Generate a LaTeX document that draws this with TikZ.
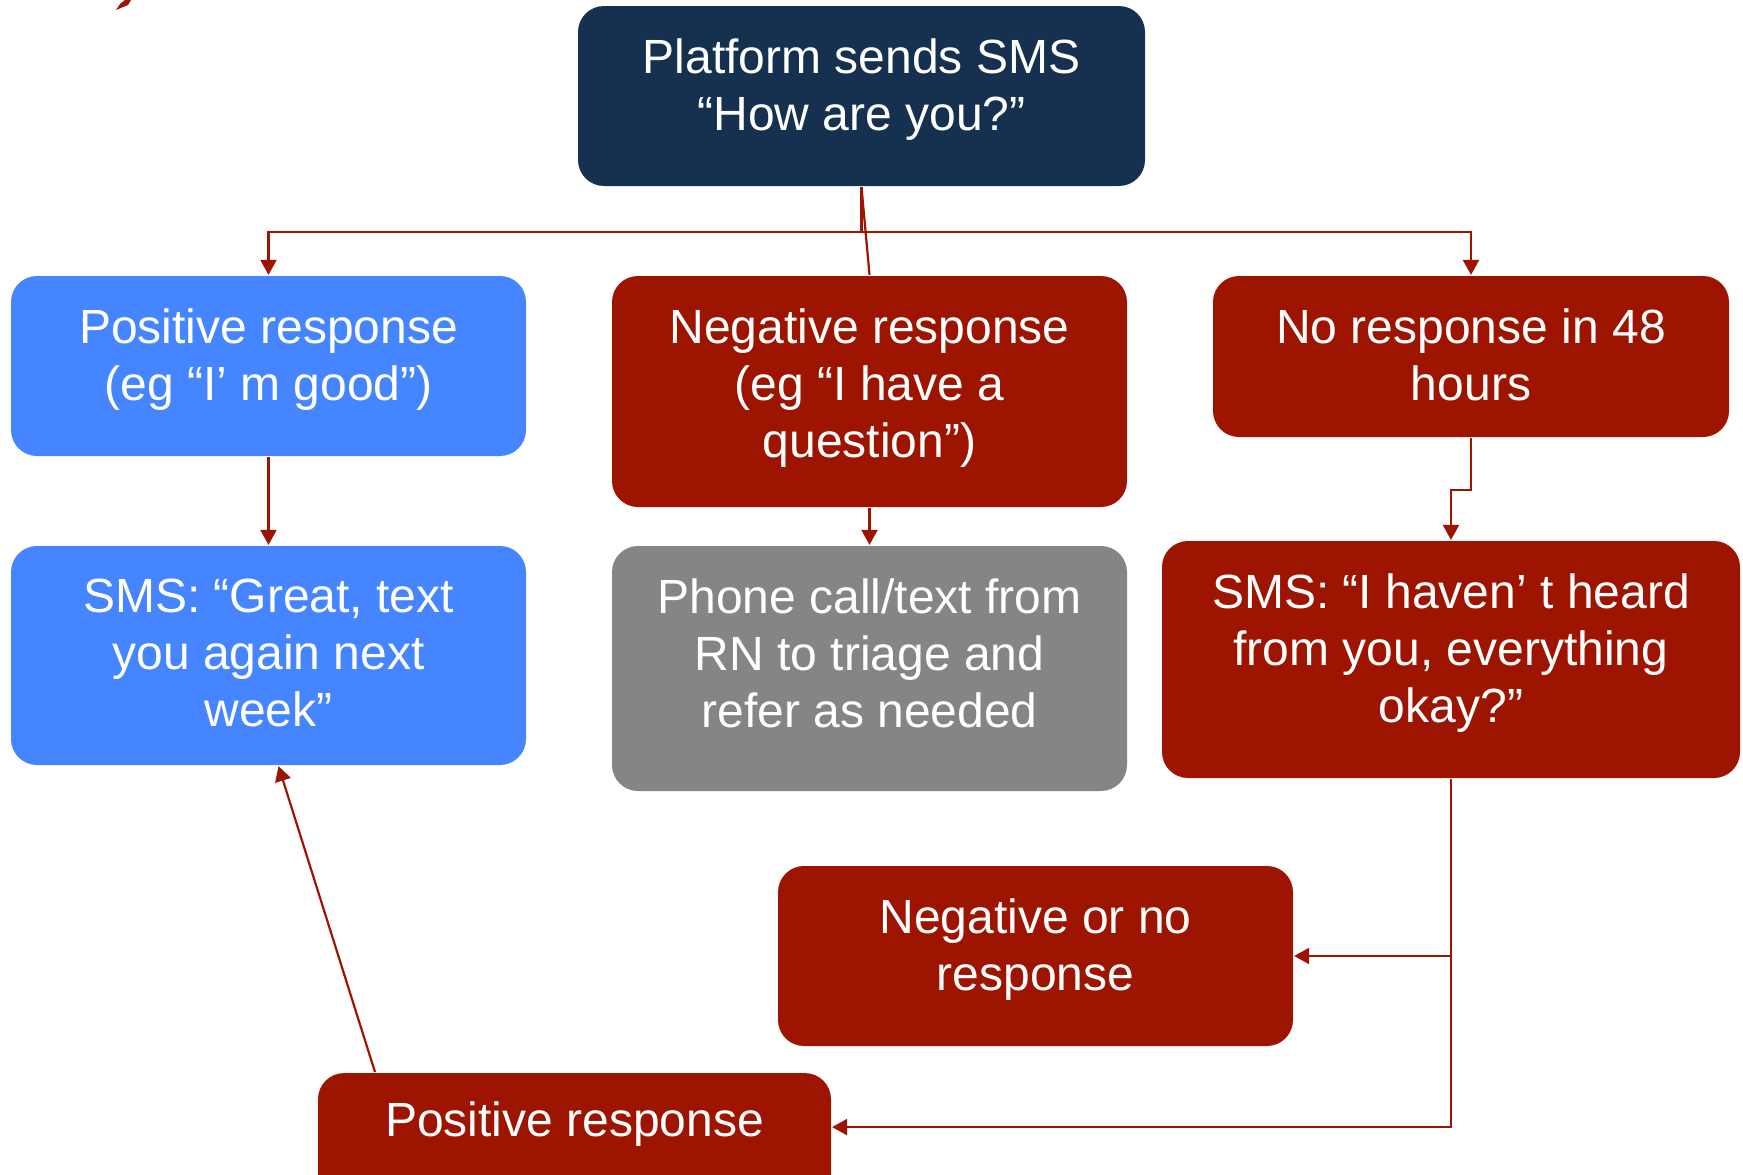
\documentclass[tikz,border=0pt]{standalone}
\usepackage{fontspec}
\setmainfont{Liberation Sans}
\usetikzlibrary{arrows.meta}

\definecolor{headblue}{RGB}{22,49,79}
\definecolor{okblue}{RGB}{69,133,255}
\definecolor{alarmred}{RGB}{157,21,0}
\definecolor{nursegrey}{RGB}{133,133,133}

\tikzset{
    state/.style={
           rectangle,
           rounded corners=26pt,
           text=white,
           font=\fontsize{48}{57}\selectfont,
           inner sep=10pt,
           align=center,
           text depth=23pt, % pushes the lines up towards the top edge
           minimum width=515pt,
           minimum height=180pt
           },
}

\begin{document}
\begin{tikzpicture}[x=1pt,y=-1pt,->,>={Triangle[width=16pt,length=15pt]},color=alarmred,line width=2.2pt]
            \useasboundingbox (0,0) rectangle (1743,1175);

             % stray tip left over in the corner
             \fill[alarmred] (116,10) -- (120,4) -- (125,0) -- (131,0) -- (128,5) -- cycle;

             \node[state, fill=headblue, minimum width=567pt] (SMS) at (861.5,96)
             {Platform sends SMS\\“How are you?”};

             \node[state, fill=okblue] (POS) at (268.5,366)
             {Positive response\\(eg “I’ m good”)};

             \node[state, fill=alarmred, minimum height=231pt, text depth=17pt] (NEG) at (869.5,391.5)
             {Negative response\\(eg “I have a\\question”)};

             \node[state, fill=alarmred, minimum width=516pt, minimum height=161pt, text depth=4pt] (NONE) at (1471,356.5)
             {No response in 48\\hours};

             \node[state, fill=okblue,
              below of=POS,
              node distance=289.5pt,
              anchor=center,
              minimum height=219pt,
              text depth=5pt] (GREAT)
             {SMS: “Great, text\\you again next\\week”};

             \node[state, fill=nursegrey,
              below of=NEG,
              node distance=277pt,
              anchor=center,
              minimum height=245pt,
              text depth=31pt] (PHONE)
             {Phone call/text from\\RN to triage and\\refer as needed};

             \node[state, fill=alarmred, minimum width=578pt, minimum height=237pt] (HEARD) at (1451,659.5)
             {SMS: “I haven’ t heard\\from you, everything\\okay?”};

             \node[state, fill=alarmred] (NEGNO) at (1035.5,956)
             {Negative or no\\response};

%             runs off the bottom edge
             \node[state, fill=alarmred, anchor=north, minimum width=513pt, minimum height=0pt,
              text height=53pt, text depth=80pt] (POSRESP) at (574.5,1072)
             {Positive response};

             \draw (SMS.south) -- ++(0,45) coordinate (split) -| (POS.north);
             \draw (split) -| (NONE.north);
             \draw[-] (SMS.south) -- (NEG.north);
             \draw (POS.south) -- (GREAT.north);
             \draw (NEG.south) -- (PHONE.north);
             \draw (NONE.south) -- ++(0,52) -| (HEARD.north);
             \draw (HEARD.south) |- (NEGNO.east);
             \draw (HEARD.south) |- ([yshift=9pt]POSRESP.base east);
             \draw ([xshift=-199.5pt]POSRESP.north) -- ([xshift=10pt]GREAT.south);

\end{tikzpicture}
\end{document}
